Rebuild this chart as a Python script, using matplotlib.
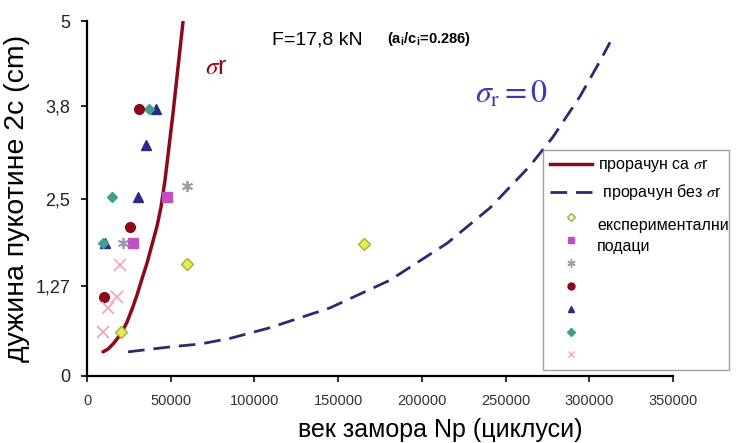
import matplotlib
matplotlib.use('Agg')
import matplotlib.pyplot as plt
from matplotlib.lines import Line2D

plt.rcParams['font.family'] = ['Liberation Sans', 'DejaVu Sans']
plt.rcParams['mathtext.fontset'] = 'stix'

# proracun sa sigma_r (puna crvena linija)
red_x = [9560, 12550, 15530, 18520, 20910, 23900, 26880, 29870, 32860, 35850,
         38830, 41820, 44210, 46600, 48990, 51380, 54370, 57350]
red_y = [0.34, 0.38, 0.45, 0.54, 0.62, 0.76, 0.94, 1.14, 1.37, 1.59,
         1.85, 2.11, 2.38, 2.76, 3.23, 3.70, 4.35, 4.99]

# proracun bez sigma_r (isprekidana plava linija)
blue_x = [24500, 49580, 67510, 85430, 109300, 145200, 181000, 215100, 240800,
          264600, 278400, 294500, 306500, 312400]
blue_y = [0.34, 0.41, 0.45, 0.53, 0.68, 0.96, 1.35, 1.87, 2.37,
          2.96, 3.37, 3.94, 4.44, 4.70]

# eksperimentalni podaci
yel_x = [20300, 59700, 165500]
yel_y = [0.62, 1.58, 1.86]
mag_x = [47800, 27500]
mag_y = [2.52, 1.87]
gry_x = [59700, 21500]
gry_y = [2.68, 1.87]
crc_x = [31000, 25700, 10200]
crc_y = [3.76, 2.10, 1.11]
tri_x = [41200, 35200, 30500, 10800]
tri_y = [3.76, 3.25, 2.52, 1.87]
teal_x = [37000, 14900, 9800]
teal_y = [3.76, 2.52, 1.87]
pink_x = [19700, 17900, 12500, 9600]
pink_y = [1.56, 1.11, 0.96, 0.62]

yticks = [0, 1.27, 2.5, 3.8, 5]
ytick_labels = ['0', '1,27', '2,5', '3,8', '5']
xticks = [0, 50000, 100000, 150000, 200000, 250000, 300000, 350000]

c_red = '#8b0a1a'
c_blue = '#2e2a70'

fig = plt.figure(figsize=(7.39, 4.43), dpi=100)
ax = fig.add_axes([87/739, 1 - 376/443, (673 - 87)/739, (376 - 21)/443])

ax.plot(red_x, red_y, color=c_red, lw=2.5, solid_capstyle='round', solid_joinstyle='round')
ax.plot(blue_x, blue_y, color=c_blue, lw=2.0, dashes=(6, 3.2))

mk = dict(linestyle='none')
ax.plot(tri_x, tri_y, marker='^', ms=7, color='#2b2b85', **mk)
ax.plot(teal_x, teal_y, marker='D', ms=5, color='#3fa08e', **mk)
ax.plot(crc_x, crc_y, marker='o', ms=7, color=c_red, **mk)
ax.plot(mag_x, mag_y, marker='s', ms=7, color='#c050c0', **mk)
ax.plot(gry_x, gry_y, marker=(6, 2, 0), ms=8, color='#9a9aa8', mew=1.3, **mk)
ax.plot(pink_x, pink_y, marker='x', ms=8, color='#f2a8b8', mew=1.3, **mk)
ax.plot(yel_x, yel_y, marker='D', ms=6.5, mfc='#e8ea50', mec='#9fb43c', mew=1, **mk)

ax.set_xlim(0, 350000)
ax.set_ylim(0, 5)
ax.set_yticks(yticks)
ax.set_yticklabels(ytick_labels)
ax.set_xticks(xticks)
ax.set_xticklabels([str(v) for v in xticks])

for s in ['top', 'right']:
    ax.spines[s].set_visible(False)
for s in ['left', 'bottom']:
    ax.spines[s].set_linewidth(1.6)
ax.tick_params(axis='y', labelsize=13, length=4, width=1.4, pad=8, colors='#222222')
ax.tick_params(axis='x', labelsize=10.5, length=4, width=1.4, pad=9, colors='#333333')
ax.tick_params(axis='both', direction='out')

ax.set_xlabel('век замора Np (циклуси)', fontsize=18)
ax.xaxis.set_label_coords((440 - 87)/586, -42/355)
ax.set_ylabel('дужина пукотине 2c (cm)', fontsize=20.5)
ax.yaxis.set_label_coords(-57/586, 0.5)

fig.text(272/739, 1 - 40/443, 'F=17,8 kN', fontsize=14, va='center')
fig.text(387/739, 1 - 39/443, r'(a$_\mathregular{i}$/c$_\mathregular{i}$=0.286)',
         fontsize=10.5, fontweight='bold', va='center')
fig.text(205/739, 1 - 67/443, r'$\sigma$r', fontsize=18, color=c_red, va='center')
fig.text(475/739, 1 - 95/443, r'$\sigma_{\mathrm{r}}=0$', fontsize=23, color='#3a3ab0', va='center')

handles = [
    Line2D([], [], color=c_red, lw=2.5),
    Line2D([], [], color=c_blue, lw=2.0, dashes=(6, 3.2)),
    Line2D([], [], marker='D', ms=4.5, mfc='#f4f4d0', mec='#a0b040', mew=1, ls='none'),
    Line2D([], [], marker='s', ms=5, color='#c050c0', ls='none'),
    Line2D([], [], marker=(6, 2, 0), ms=6, color='#9a9aa8', mew=1, ls='none'),
    Line2D([], [], marker='o', ms=5, color=c_red, ls='none'),
    Line2D([], [], marker='^', ms=5, color='#2b2b85', ls='none'),
    Line2D([], [], marker='D', ms=4, color='#3fa08e', ls='none'),
    Line2D([], [], marker='x', ms=5, color='#f2a8b8', mew=1, ls='none'),
]
labels = [r'прорачун са $\sigma$r', r' прорачун без $\sigma$r', '', '', '', '', '', '', '']
leg = fig.legend(handles, labels, loc='upper left', bbox_to_anchor=(543/739, 1 - 150/443),
                 fontsize=11.5, frameon=True, fancybox=False, handlelength=2.6,
                 labelspacing=0.5, handletextpad=0.4, borderpad=0.45, borderaxespad=0)
leg.get_frame().set_edgecolor('#888888')
leg.get_frame().set_linewidth(1.0)
fig.text(597/739, 1 - 236/443, 'експериментални\nподаци', fontsize=11.5,
         va='center', linespacing=1.45, zorder=10)

fig.savefig('out.png', dpi=100, facecolor='white')
